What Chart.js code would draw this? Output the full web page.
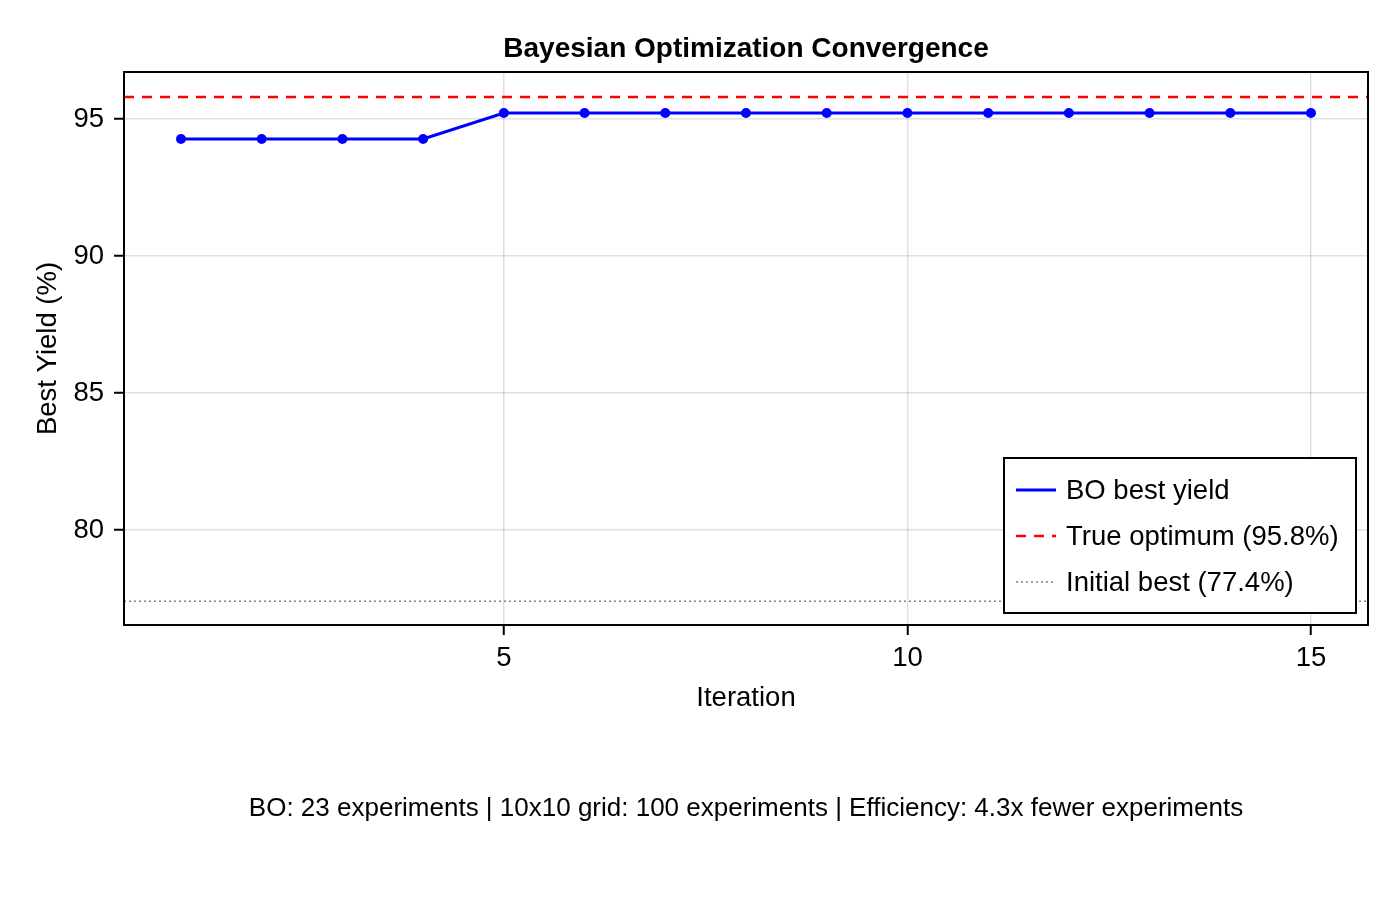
<!DOCTYPE html>
<html>
<head>
<meta charset="utf-8">
<script src="https://cdn.jsdelivr.net/npm/chart.js@4.4.1/dist/chart.umd.min.js"></script>
<style>
  html, body { margin: 0; padding: 0; background: #fff; }
  #wrap { width: 1400px; height: 900px; }
</style>
</head>
<body>
<div id="wrap"><canvas id="convChart" width="1400" height="900"></canvas></div>
<script>
// Data
const iterations = [1, 2, 3, 4, 5, 6, 7, 8, 9, 10, 11, 12, 13, 14, 15];
const bestYield = [94.27, 94.27, 94.27, 94.27, 95.22, 95.22, 95.22, 95.22, 95.22, 95.22, 95.22, 95.22, 95.22, 95.22, 95.22];
const trueOptimum = 95.8;
const initialBest = 77.4;
const xTicks = [5, 10, 15];
const yTicks = [80, 85, 90, 95];
const xRange = [0.294, 15.706];
const yRange = [76.53, 96.715];
const seriesLabels = ['BO best yield', 'True optimum (95.8%)', 'Initial best (77.4%)'];
const chartTitle = 'Bayesian Optimization Convergence';
const footnote = 'BO: 23 experiments | 10x10 grid: 100 experiments | Efficiency: 4.3x fewer experiments';

const FONT = '"Liberation Sans", Arial, sans-serif';
const TXT = 27.5;

// frame, title, footnote and the boxed legend in the lower right
const extrasPlugin = {
    id: 'extras',
    afterDraw(chart) {
        const ctx = chart.ctx;
        const a = chart.chartArea;
        ctx.save();
        ctx.strokeStyle = '#000';
        ctx.lineWidth = 2;
        ctx.strokeRect(a.left, a.top, a.right - a.left, a.bottom - a.top);

        ctx.fillStyle = '#000';
        ctx.textAlign = 'center';
        ctx.textBaseline = 'middle';
        ctx.font = 'bold 28px ' + FONT;
        ctx.fillText(chartTitle, (a.left + a.right) / 2, 49);
        ctx.font = '26px ' + FONT;
        ctx.fillText(footnote, (a.left + a.right) / 2, 809);

        // legend
        const bx = 1004, by = 458, bw = 352, bh = 155;
        ctx.fillStyle = '#fff';
        ctx.fillRect(bx, by, bw, bh);
        ctx.strokeStyle = '#000';
        ctx.lineWidth = 2;
        ctx.strokeRect(bx, by, bw, bh);
        ctx.font = TXT + 'px ' + FONT;
        ctx.textAlign = 'left';
        chart.data.datasets.forEach((ds, i) => {
            const y = by + 32 + i * 46;
            ctx.beginPath();
            ctx.strokeStyle = ds.borderColor;
            ctx.lineWidth = ds.borderWidth;
            ctx.setLineDash(ds.borderDash || []);
            ctx.moveTo(bx + 12, y);
            ctx.lineTo(bx + 52, y);
            ctx.stroke();
            ctx.setLineDash([]);
            ctx.fillStyle = '#000';
            ctx.fillText(ds.label, bx + 62, y + 1);
        });
        ctx.restore();
    }
};

const ctx = document.getElementById('convChart').getContext('2d');

new Chart(ctx, {
    type: 'line',
    data: {
        datasets: [
            {
                label: seriesLabels[0],
                data: iterations.map((x, i) => ({ x: x, y: bestYield[i] })),
                borderColor: '#0000ff',
                backgroundColor: '#0000ff',
                borderWidth: 3,
                pointRadius: 5,
                pointBorderWidth: 0,
                pointBackgroundColor: '#0000ff',
                tension: 0,
                order: 0
            },
            {
                label: seriesLabels[1],
                data: xRange.map(x => ({ x: x, y: trueOptimum })),
                borderColor: '#ff0000',
                borderWidth: 2.5,
                borderDash: [10, 8],
                pointRadius: 0,
                order: 1
            },
            {
                label: seriesLabels[2],
                data: xRange.map(x => ({ x: x, y: initialBest })),
                borderColor: '#808080',
                borderWidth: 1.5,
                borderDash: [2, 3],
                pointRadius: 0,
                order: 2
            }
        ]
    },
    options: {
        responsive: false,
        animation: false,
        layout: { padding: { left: 28, top: 72, right: 32, bottom: 181.5 } },
        plugins: {
            legend: { display: false },
            title: { display: false },
            tooltip: { enabled: false }
        },
        scales: {
            x: {
                type: 'linear',
                min: xRange[0],
                max: xRange[1],
                afterBuildTicks: (scale) => { scale.ticks = xTicks.map(v => ({ value: v })); },
                afterFit: (scale) => { scale.height = 93.5; },
                ticks: {
                    font: { family: FONT, size: TXT },
                    color: '#000',
                    padding: 7,
                    maxRotation: 0
                },
                grid: {
                    color: 'rgba(0, 0, 0, 0.12)',
                    lineWidth: 1.5,
                    drawTicks: true,
                    tickLength: 10,
                    tickColor: '#000',
                    tickWidth: 2
                },
                border: { display: true, color: '#000', width: 2 },
                title: {
                    display: true,
                    text: 'Iteration',
                    font: { family: FONT, size: TXT },
                    color: '#000'
                }
            },
            y: {
                type: 'linear',
                min: yRange[0],
                max: yRange[1],
                afterBuildTicks: (scale) => { scale.ticks = yTicks.map(v => ({ value: v })); },
                afterFit: (scale) => { scale.width = 96; },
                ticks: {
                    font: { family: FONT, size: TXT },
                    color: '#000',
                    padding: 10
                },
                grid: {
                    color: 'rgba(0, 0, 0, 0.12)',
                    lineWidth: 1.5,
                    drawTicks: true,
                    tickLength: 10,
                    tickColor: '#000',
                    tickWidth: 2
                },
                border: { display: true, color: '#000', width: 2 },
                title: {
                    display: true,
                    text: 'Best Yield (%)',
                    font: { family: FONT, size: TXT },
                    color: '#000'
                }
            }
        }
    },
    plugins: [extrasPlugin]
});
</script>
</body>
</html>
